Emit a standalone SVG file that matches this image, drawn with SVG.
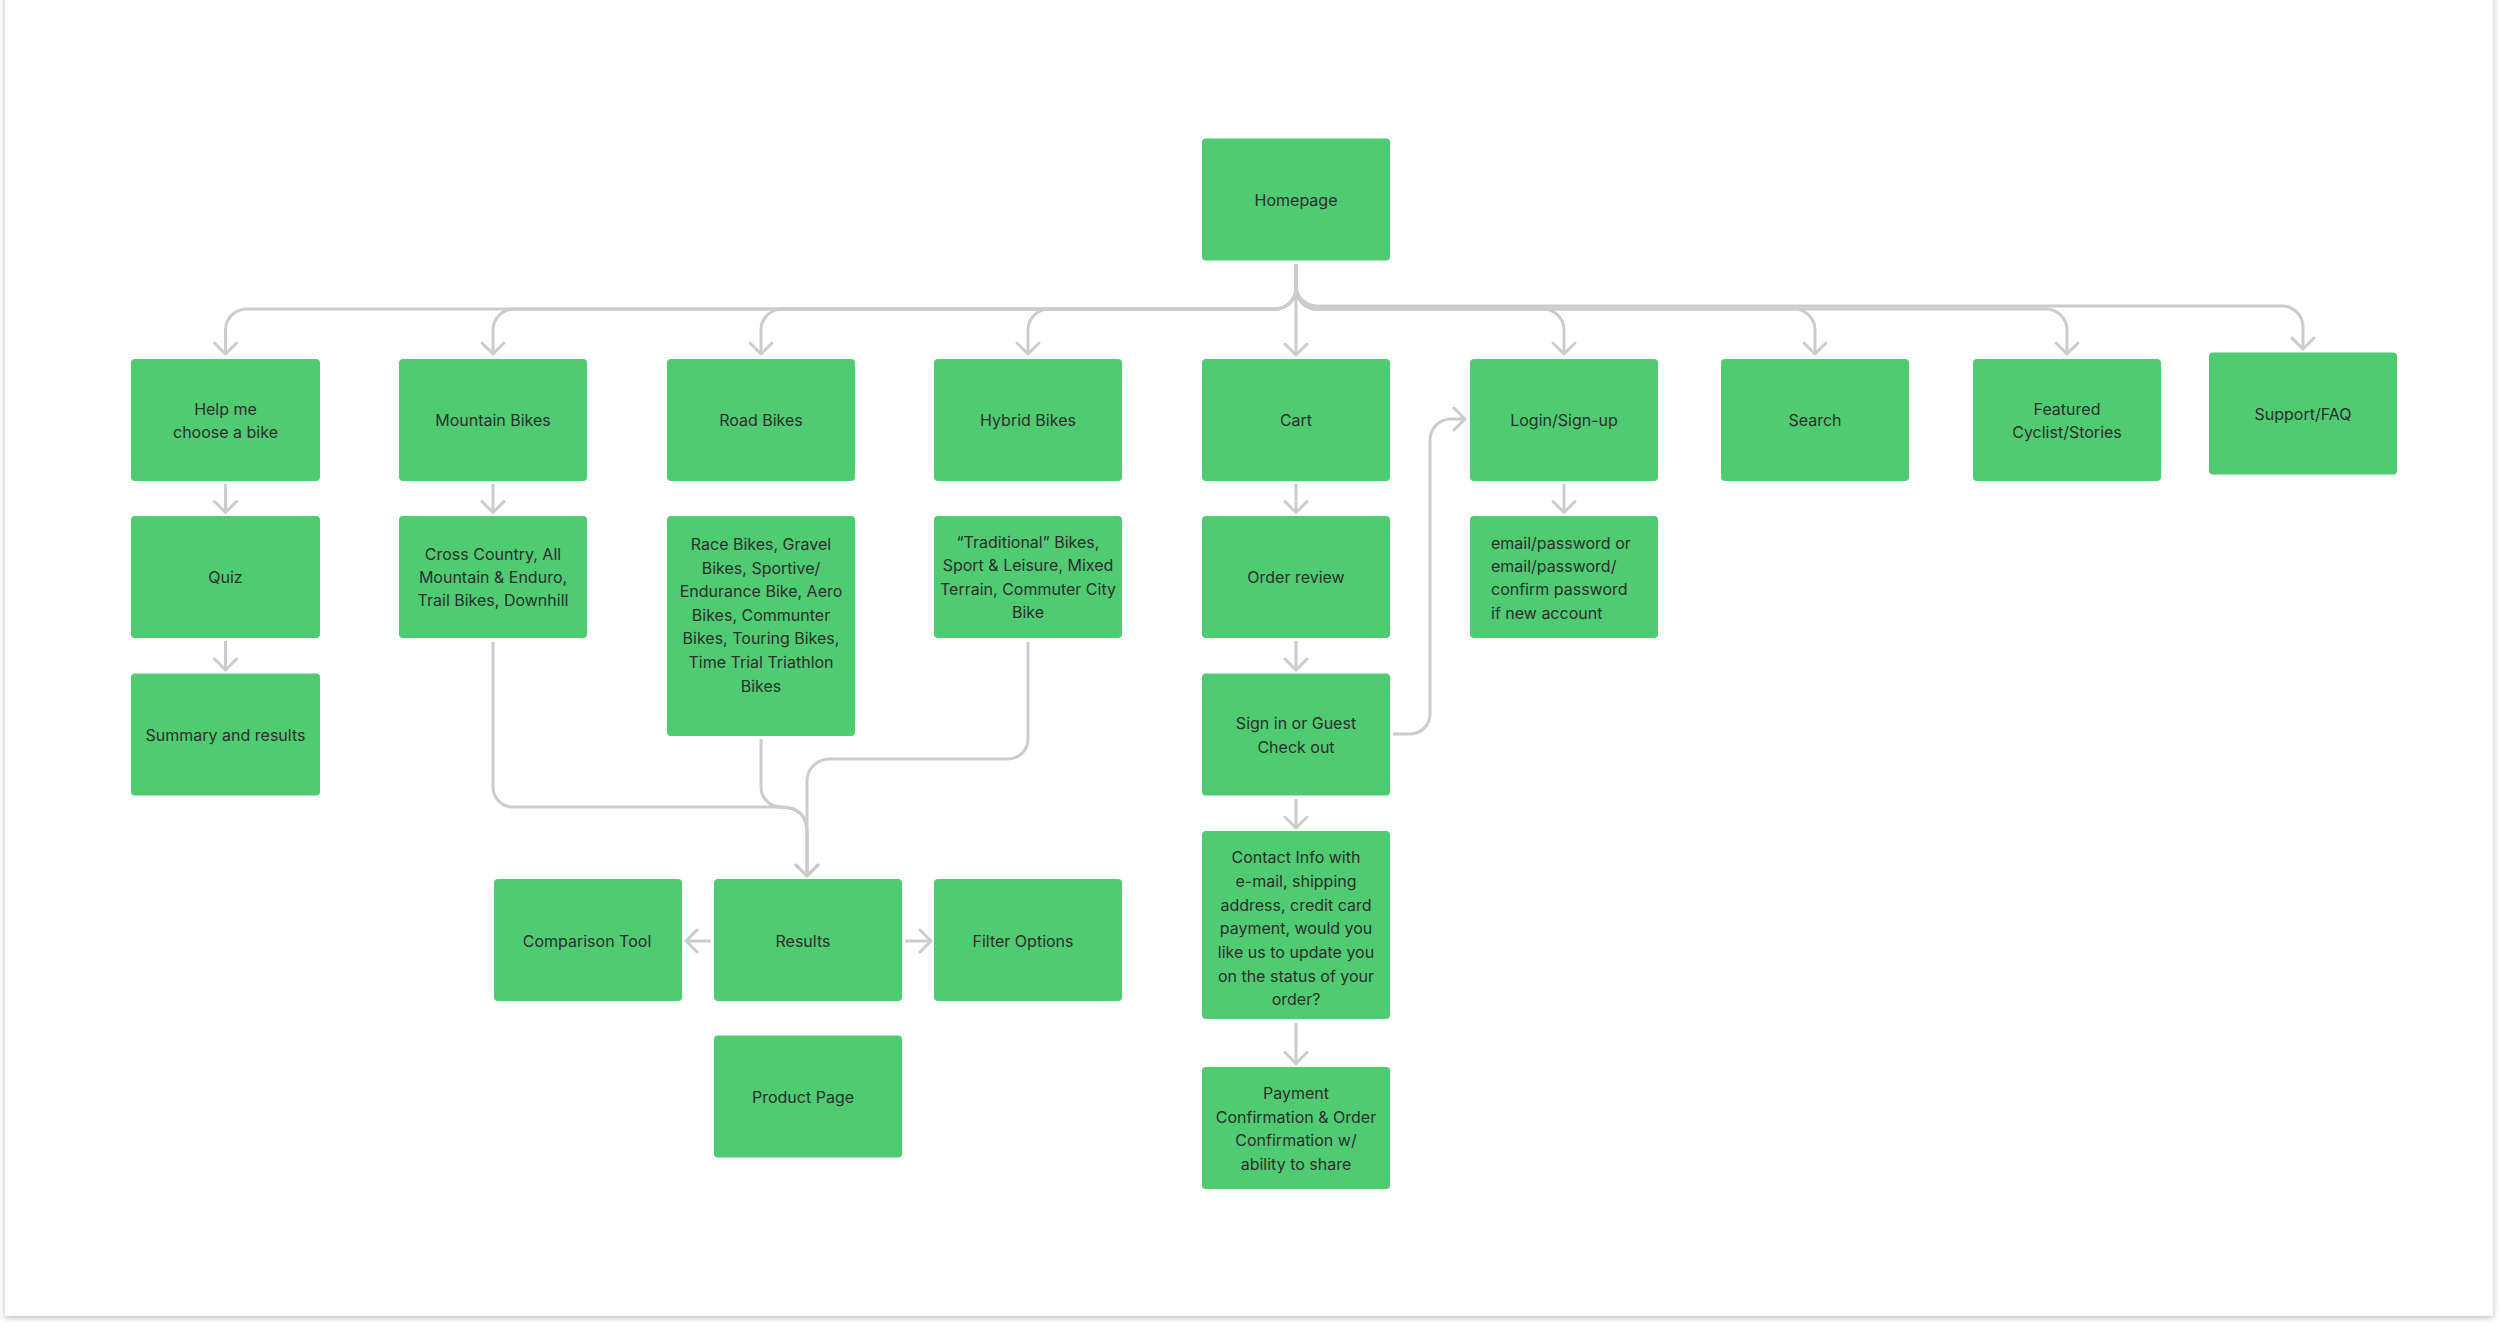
<svg xmlns="http://www.w3.org/2000/svg" width="2500" height="1327" viewBox="0 0 2500 1327">
<defs>
<filter id="sh" x="-5%" y="-5%" width="110%" height="110%">
<feDropShadow dx="0" dy="2" stdDeviation="3" flood-color="#000" flood-opacity="0.28"/>
</filter>
<marker id="ah" viewBox="-13 -13 16 26" markerWidth="16" markerHeight="26" refX="0" refY="0" orient="auto" markerUnits="userSpaceOnUse">
<path d="M-11,-11 L0,0 L-11,11" fill="none" stroke="#cccccc" stroke-width="3" stroke-linecap="round" stroke-linejoin="round"/>
</marker>
</defs>
<style>
.box{fill:#4fcb71;}
.t{font-family:Inter,"Liberation Sans",sans-serif;font-size:16px;fill:#2e2e2e;text-anchor:middle;}
.tl{text-anchor:start;}
.c{fill:none;stroke:#cccccc;stroke-width:3;marker-end:url(#ah);}
</style>
<rect x="0" y="0" width="2500" height="1327" fill="#ffffff"/>
<rect x="5" y="-20" width="2488" height="1335.7" fill="#ffffff" filter="url(#sh)"/>

<g id="connectors">
<path class="c" d="M1296,264 V288 A21,21 0 0 1 1275,309 H246.5 A21,21 0 0 0 225.5,330 V354"/>
<path class="c" d="M1296,264 V288 A21,21 0 0 1 1275,309 H514 A21,21 0 0 0 493,330 V354"/>
<path class="c" d="M1296,264 V288 A21,21 0 0 1 1275,309 H782 A21,21 0 0 0 761,330 V354"/>
<path class="c" d="M1296,264 V288 A21,21 0 0 1 1275,309 H1049 A21,21 0 0 0 1028,330 V354"/>
<path class="c" d="M1296,264 V355"/>
<path class="c" d="M1296,264 V288 A21,21 0 0 0 1317,309 H1543 A21,21 0 0 1 1564,330 V354"/>
<path class="c" d="M1296,264 V288 A21,21 0 0 0 1317,309 H1794 A21,21 0 0 1 1815,330 V354"/>
<path class="c" d="M1296,264 V288 A21,21 0 0 0 1317,309 H2046 A21,21 0 0 1 2067,330 V354"/>
<path class="c" d="M1296,264 V285 A21,21 0 0 0 1317,306 H2282 A21,21 0 0 1 2303,327 V349"/>

<path class="c" d="M225.5,484 V512.5"/>
<path class="c" d="M225.5,641 V670"/>
<path class="c" d="M493,484 V512.5"/>
<path class="c" d="M1296,484 V512.5"/>
<path class="c" d="M1296,641 V670"/>
<path class="c" d="M1564,484 V512.5"/>
<path class="c" d="M1296,799 V828"/>
<path class="c" d="M1296,1023 V1063.5"/>

<path class="c" d="M493,642 V787 A20,20 0 0 0 513,807 H781 Q807,807 807,833 V876"/>
<path class="c" d="M761,739 V787 A20,20 0 0 0 781,807 Q807,807 807,833 V876"/>
<path class="c" d="M1028,642 V739 A20,20 0 0 1 1008,759 H829 A22,22 0 0 0 807,781 V876"/>

<path class="c" d="M711,941 H686"/>
<path class="c" d="M905,941 H931"/>

<path class="c" d="M1393,734 H1410 A20,20 0 0 0 1430,714 V440 A21,21 0 0 1 1451,419 H1465"/>
</g>

<g id="homepage"><rect class="box" x="1202" y="138.5" width="188" height="122" rx="4"/><text class="t" x="1296" y="205.5">Homepage</text></g>

<g id="help"><rect class="box" x="131" y="359" width="189" height="122" rx="4"/><text class="t"><tspan x="225.5" y="414.5">Help me</tspan><tspan x="225.5" y="438">choose a bike</tspan></text></g>
<g id="mountain"><rect class="box" x="399" y="359" width="188" height="122" rx="4"/><text class="t" x="493" y="426">Mountain Bikes</text></g>
<g id="road"><rect class="box" x="667" y="359" width="188" height="122" rx="4"/><text class="t" x="761" y="426">Road Bikes</text></g>
<g id="hybrid"><rect class="box" x="934" y="359" width="188" height="122" rx="4"/><text class="t" x="1028" y="426">Hybrid Bikes</text></g>
<g id="cart"><rect class="box" x="1202" y="359" width="188" height="122" rx="4"/><text class="t" x="1296" y="426">Cart</text></g>
<g id="login"><rect class="box" x="1470" y="359" width="188" height="122" rx="4"/><text class="t" x="1564" y="426">Login/Sign-up</text></g>
<g id="search"><rect class="box" x="1721" y="359" width="188" height="122" rx="4"/><text class="t" x="1815" y="426">Search</text></g>
<g id="featured"><rect class="box" x="1973" y="359" width="188" height="122" rx="4"/><text class="t"><tspan x="2067" y="414.5">Featured</tspan><tspan x="2067" y="438">Cyclist/Stories</tspan></text></g>
<g id="support"><rect class="box" x="2209" y="352.5" width="188" height="122" rx="4"/><text class="t" x="2303" y="420">Support/FAQ</text></g>

<g id="quiz"><rect class="box" x="131" y="516" width="189" height="122" rx="4"/><text class="t" x="225.5" y="583">Quiz</text></g>
<g id="cross-country"><rect class="box" x="399" y="516" width="188" height="122" rx="4"/><text class="t"><tspan x="493" y="559.6">Cross Country, All</tspan><tspan x="493" y="583">Mountain &amp; Enduro,</tspan><tspan x="493" y="606.4">Trail Bikes, Downhill</tspan></text></g>
<g id="road-types"><rect class="box" x="667" y="516" width="188" height="220" rx="4"/><text class="t"><tspan x="761" y="550">Race Bikes, Gravel</tspan><tspan x="761" y="573.6">Bikes, Sportive/</tspan><tspan x="761" y="597.2">Endurance Bike, Aero</tspan><tspan x="761" y="620.8">Bikes, Communter</tspan><tspan x="761" y="644.4">Bikes, Touring Bikes,</tspan><tspan x="761" y="668">Time Trial Triathlon</tspan><tspan x="761" y="691.6">Bikes</tspan></text></g>
<g id="hybrid-types"><rect class="box" x="934" y="516" width="188" height="122" rx="4"/><text class="t"><tspan x="1028" y="548">“Traditional” Bikes,</tspan><tspan x="1028" y="571.4">Sport &amp; Leisure, Mixed</tspan><tspan x="1028" y="594.8">Terrain, Commuter City</tspan><tspan x="1028" y="618.2">Bike</tspan></text></g>
<g id="order-review"><rect class="box" x="1202" y="516" width="188" height="122" rx="4"/><text class="t" x="1296" y="583">Order review</text></g>
<g id="credentials"><rect class="box" x="1470" y="516" width="188" height="122" rx="4"/><text class="t tl"><tspan x="1491" y="548.7">email/password or</tspan><tspan x="1491" y="572">email/password/</tspan><tspan x="1491" y="595.3">confirm password</tspan><tspan x="1491" y="619">if new account</tspan></text></g>

<g id="summary"><rect class="box" x="131" y="673.5" width="189" height="122" rx="4"/><text class="t" x="225.5" y="740.5">Summary and results</text></g>
<g id="sign-in"><rect class="box" x="1202" y="673.5" width="188" height="122" rx="4"/><text class="t"><tspan x="1296" y="729.3">Sign in or Guest</tspan><tspan x="1296" y="752.7">Check out</tspan></text></g>

<g id="contact"><rect class="box" x="1202" y="831" width="188" height="188" rx="4"/><text class="t"><tspan x="1296" y="863.3">Contact Info with</tspan><tspan x="1296" y="887">e-mail, shipping</tspan><tspan x="1296" y="910.6">address, credit card</tspan><tspan x="1296" y="934.3">payment, would you</tspan><tspan x="1296" y="958">like us to update you</tspan><tspan x="1296" y="981.6">on the status of your</tspan><tspan x="1296" y="1005.3">order?</tspan></text></g>
<g id="payment"><rect class="box" x="1202" y="1067" width="188" height="122" rx="4"/><text class="t"><tspan x="1296" y="1099.3">Payment</tspan><tspan x="1296" y="1122.7">Confirmation &amp; Order</tspan><tspan x="1296" y="1146.3">Confirmation w/</tspan><tspan x="1296" y="1169.7">ability to share</tspan></text></g>

<g id="comparison"><rect class="box" x="494" y="879" width="188" height="122" rx="4"/><text class="t" x="587" y="946.5">Comparison Tool</text></g>
<g id="results"><rect class="box" x="714" y="879" width="188" height="122" rx="4"/><text class="t" x="803" y="946.5">Results</text></g>
<g id="filter"><rect class="box" x="934" y="879" width="188" height="122" rx="4"/><text class="t" x="1023" y="946.5">Filter Options</text></g>
<g id="product"><rect class="box" x="714" y="1035.5" width="188" height="122" rx="4"/><text class="t" x="803" y="1102.5">Product Page</text></g>
</svg>
